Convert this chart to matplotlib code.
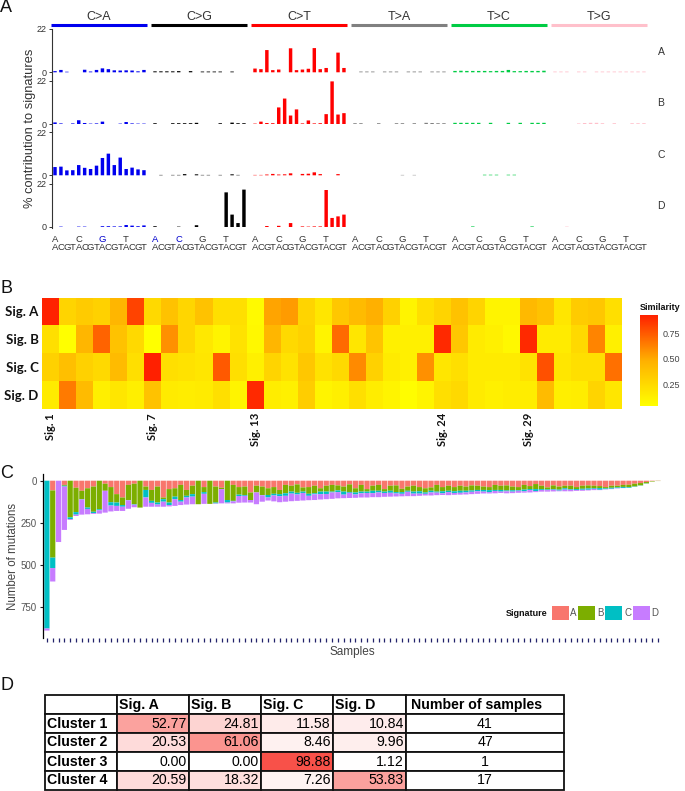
import numpy as np
import matplotlib
matplotlib.use("Agg")
import matplotlib.pyplot as plt
from matplotlib.colors import LinearSegmentedColormap
from matplotlib.table import Table

W, H = 685, 791
plt.rcParams['font.family'] = ['Liberation Sans', 'DejaVu Sans']

# panel A, % contribution, 16 contexts for each of the 6 substitution types
subs = ["C>A", "C>G", "C>T", "T>A", "T>C", "T>G"]
sub_colors = ["#0000ee", "#000000", "#ff0000", "#808080", "#00cc44", "#ffc0cb"]
bases = ["A", "C", "G", "T"]
sig_names = ["A", "B", "C", "D"]
sig_a = [.6,1.2,.3,0,0,1.3,.4,1.2,2,1.6,1,.9,1,.9,.5,1.2,
         .5,.5,.5,.5,.6,0,.6,0,.4,.4,.4,.4,0,.4,0,0,
         1.9,1.6,11.3,1.1,1.4,0,12.2,1.1,1.4,1.8,12.3,1.6,2.2,0,10,2.2,
         0,.4,.4,.4,0,.4,.4,.4,0,.4,.4,.4,0,.4,.4,.4,
         .7,.8,.7,.7,.7,.7,.6,.7,.7,1.2,.6,.6,.7,.7,.7,.8,
         .4,.4,.4,0,.4,.4,0,.4,.4,.4,.4,.4,.4,.4,.4,.4]
sig_b = [.8,.3,0,.3,1.9,.5,.2,.3,1.2,0,0,.2,1,.3,.2,.2,
         .4,0,0,.4,.4,.4,.4,.6,0,0,0,.4,0,.7,.4,.4,
         .2,1.2,.5,.4,8.4,12.9,4.3,7.4,.3,1.8,.3,.4,5,21.6,4.8,5.5,
         .4,.4,0,0,.4,0,0,.4,.4,0,.4,0,.6,.5,.4,.4,
         .6,.6,.6,.6,.6,0,.6,0,0,.6,0,.6,0,.6,.6,.6,
         0,0,0,0,.3,.5,.6,.6,.4,0,.4,0,0,.4,.4,.4]
sig_c = [4.2,4.4,2.5,2.6,5.2,3.8,3.2,4.9,8.8,11,5.2,9,3.2,3.9,3,2.6,
         0,.2,0,.2,.2,.6,0,.5,.2,.2,0,.2,0,.5,.2,0,
         .2,.2,.4,.7,.4,.5,1,0,.7,.8,1.5,.6,0,0,.6,0,
         0,0,0,0,0,0,0,0,.2,0,.2,0,0,0,0,0,
         0,0,0,0,0,.3,.3,.3,0,.3,.3,0,0,0,0,0,
         0,0,0,0,0,0,0,0,0,0,0,0,0,0,0,0]
sig_d = [0,.2,0,0,.2,.2,0,0,.4,.4,.3,.3,1,.7,.4,.8,
         .4,0,0,0,.2,0,0,.9,0,0,0,0,17.6,6.3,2,19,
         0,0,.5,0,.6,0,2,0,.3,.2,.3,.3,18.8,4.6,5.4,6.3,
         0,0,0,0,0,0,0,0,0,0,0,0,0,0,0,0,
         0,0,0,.3,0,0,0,0,0,0,0,0,0,.3,0,0,
         0,0,.2,0,0,0,0,0,0,0,0,0,0,0,0,0]
profiles = [sig_a, sig_b, sig_c, sig_d]

# panel B, cosine similarity with the 34 reference signatures
sim_a = [.92,.28,.33,.30,.45,.82,.25,.38,.27,.38,.22,.22,.07,.52,.55,.28,.18,.35,.42,.48,.30,.10,.22,.28,.38,.28,.10,.10,.43,.38,.18,.33,.35,.22]
sim_b = [.22,.03,.45,.72,.38,.25,.03,.58,.27,.17,.10,.20,.08,.45,.25,.30,.10,.70,.18,.37,.12,.12,.12,.90,.35,.15,.12,.08,.90,.15,.15,.25,.62,.12]
sim_c = [.30,.40,.30,.25,.42,.22,.98,.22,.20,.18,.75,.22,.12,.28,.20,.35,.20,.25,.60,.30,.15,.12,.58,.18,.22,.15,.15,.15,.20,.78,.18,.22,.22,.68]
sim_d = [.15,.65,.42,.13,.18,.13,.38,.15,.14,.15,.22,.10,.90,.14,.12,.32,.10,.13,.22,.14,.10,.05,.10,.22,.25,.15,.12,.14,.14,.42,.13,.14,.28,.18]
sim_rows = ["Sig. A", "Sig. B", "Sig. C", "Sig. D"]
sim_tick_pos = [0, 6, 12, 23, 28]
sim_tick_labels = ["Sig. 1", "Sig. 7", "Sig. 13", "Sig. 24", "Sig. 29"]

# panel C, mutations per sample split by signature
mut_a = [0,58,0,25,0,42,60,45,35,0,
         18,38,80,100,25,18,0,35,55,35,
         100,50,45,25,55,30,0,38,0,35,
         42,0,25,38,35,70,30,35,45,38,
         55,25,30,22,40,38,30,45,30,25,
         28,35,22,45,25,50,30,25,50,30,
         28,48,35,30,38,45,40,25,38,30,
         38,30,35,28,30,35,38,25,30,28,
         35,38,25,32,20,30,40,28,35,30,
         30,38,30,28,30,32,38,30,30,25,
         24,18,14,8,2,1]
mut_b = [0,400,0,5,218,145,50,115,150,170,
         42,90,50,45,90,122,160,20,65,95,
         10,80,50,90,35,50,140,30,138,95,
         8,115,95,45,50,45,40,50,40,40,
         25,50,35,50,25,40,45,20,35,40,
         30,30,45,25,40,15,30,35,15,30,
         40,20,25,35,25,25,20,40,25,30,
         25,30,25,30,25,20,18,30,25,30,
         22,18,28,18,30,20,12,22,18,15,
         20,12,18,18,15,12,8,12,10,12,
         14,16,14,8,3,1]
mut_c = [880,62,0,5,10,15,2,8,8,6,
         0,20,20,10,2,3,0,45,12,12,
         15,15,15,10,10,15,0,10,0,5,
         0,15,3,8,5,0,0,2,15,10,
         12,15,12,10,8,12,6,15,14,5,
         10,18,5,12,10,8,14,10,8,12,
         8,10,6,12,14,8,10,6,12,8,
         10,12,10,8,8,10,12,6,10,5,
         8,4,10,6,12,5,4,4,6,8,
         4,6,6,8,4,10,4,6,4,6,
         4,2,1,1,0,0]
mut_d = [12,80,365,258,5,8,90,32,5,20,
         130,35,30,25,50,15,0,55,23,13,
         30,8,40,20,42,45,0,60,0,2,
         85,5,12,40,40,15,70,38,18,35,
         36,35,45,38,45,26,34,32,31,38,
         37,21,31,20,25,27,24,28,23,23,
         18,15,26,15,13,10,18,15,10,18,
         11,11,12,14,15,11,8,14,8,12,
         9,12,8,14,6,10,9,10,4,10,
         9,5,6,4,7,2,2,2,2,1,
         0,0,0,0,0,0]
mut_colors = ["#F8766D", "#7CAE00", "#00BFC4", "#C77CFF"]

# panel D
table_cols = ["", "Sig. A", "Sig. B", "Sig. C", "Sig. D", "Number of samples"]
clusters = ["Cluster 1", "Cluster 2", "Cluster 3", "Cluster 4"]
cluster_pct = [[52.77, 24.81, 11.58, 10.84],
               [20.53, 61.06, 8.46, 9.96],
               [0.00, 0.00, 98.88, 1.12],
               [20.59, 18.32, 7.26, 53.83]]
cluster_n = [41, 47, 1, 17]


def px_axes(x0, y0, x1, y1):
    # axes placed by pixel box, y counted from the top of the image
    return fig.add_axes([x0 / W, 1 - y1 / H, (x1 - x0) / W, (y1 - y0) / H])


def px_text(x, y, s, **kw):
    fig.text(x / W, 1 - y / H, s, **kw)


fig = plt.figure(figsize=(W / 100, H / 100), dpi=100)

for letter, y in zip("ABCD", [7, 288, 473, 686]):
    px_text(0, y, letter, fontsize=13, va="center", ha="left", color="#111111")

# ---- panel A
tops = [29, 80.6, 132, 183.7, 235]
zeros = [72.3, 124, 175.3, 227]
step = 5.93
block = 100 / step
grey = "#333333"
for r, prof in enumerate(profiles):
    bottom = tops[r + 1] if r < 3 else 228
    ax = px_axes(51.5, tops[r], 648, bottom)
    scale = 22 / (zeros[r] - tops[r])
    ax.set_ylim(-(bottom - zeros[r]) * scale, 22)
    ax.set_xlim((51.5 - 55) / step, (648 - 55) / step)
    xs = [b * block + i for b in range(6) for i in range(16)]
    cols = [sub_colors[b] for b in range(6) for i in range(16)]
    ax.bar(xs, prof, width=0.58, color=cols, linewidth=0, snap=False)
    ax.set_yticks([0, 22])
    ax.set_yticklabels(["0", "22"], fontsize=6.5, color=grey)
    ax.tick_params(axis="y", length=2.5, width=0.7, pad=1, color=grey)
    ax.set_xticks([])
    for s in ["top", "right", "bottom"]:
        ax.spines[s].set_visible(False)
    ax.spines["left"].set_linewidth(0.8)
    ax.spines["left"].set_color(grey)
    ax.patch.set_alpha(0)
    px_text(661, (tops[r] + zeros[r]) / 2 + 1, sig_names[r], fontsize=7.5, ha="center", va="center", color=grey)

head = px_axes(0, 0, W, H)
head.set_xlim(0, W)
head.set_ylim(H, 0)
head.axis("off")
for b, (name, c) in enumerate(zip(subs, sub_colors)):
    x0 = 51.5 + 100 * b
    head.plot([x0, x0 + 95.5], [25, 25], color=c, lw=2.2, solid_capstyle="butt")
    head.text(x0 + 47.5, 17, name, fontsize=9, ha="center", va="center", color=grey)
    for i in range(4):
        c0 = "#0000cc" if (b == 0 and i == 2) or (b == 1 and i < 2) else grey
        head.text(55 + 100 * b + i * 4 * step, 239, bases[i], fontsize=6.8, ha="center", va="center", color=c0)
    for i in range(16):
        head.text(55 + 100 * b + i * step, 248, bases[i % 4], fontsize=6.8, ha="center", va="center", color=grey)
px_text(30, 128, "% contribution to signatures", fontsize=9.3, rotation=90, ha="center", va="center", color=grey)

# ---- panel B
sim = np.array([sim_a, sim_b, sim_c, sim_d])
heat_cmap = LinearSegmentedColormap.from_list("sim", ["#FFFF00", "#FFB000", "#FF2000"])
ax = px_axes(42, 297.5, 622, 409.5)
im = ax.imshow(sim, cmap=heat_cmap, aspect="auto", vmin=0.04, vmax=0.93, interpolation="nearest")
ax.set_yticks(range(4))
ax.set_yticklabels(sim_rows, fontsize=9.5, fontweight="bold", family="Lato", color="#111111")
ax.set_xticks(sim_tick_pos)
ax.set_xticklabels(sim_tick_labels, rotation=90, fontsize=8, fontweight="bold", family="Lato", color="#111111")
ax.tick_params(length=0, pad=2.5)
for s in ax.spines.values():
    s.set_visible(False)

cax = px_axes(640, 315, 658, 406)
cb = fig.colorbar(im, cax=cax, ticks=[0.25, 0.5, 0.75])
cb.ax.set_yticklabels(["0.25", "0.50", "0.75"], fontsize=6.5, color="#444444")
cb.ax.tick_params(length=0, pad=3)
cb.outline.set_visible(False)
px_text(640, 307, "Similarity", fontsize=6.5, fontweight="bold", ha="left", va="center", color="#111111")

# ---- panel C
ax = px_axes(43, 474, 665, 638)
pxm = 0.168
ax.set_ylim((638 - 480.7) / pxm, (474 - 480.7) / pxm)
ax.set_xlim((43 - 46.9) / 5.82, (665 - 46.9) / 5.82)
x = np.arange(len(mut_a))
base = np.zeros(len(mut_a))
for vals, c, name in zip([mut_a, mut_b, mut_c, mut_d], mut_colors, sig_names):
    ax.bar(x, vals, bottom=base, width=0.9, color=c, linewidth=0, label=name, snap=False)
    base = base + np.array(vals)
ax.set_yticks([0, 250, 500, 750])
ax.set_yticklabels(["0", "250", "500", "750"], fontsize=7, color="#555555")
ax.set_xticks(x)
ax.set_xticklabels([])
ax.tick_params(axis="x", length=3, width=0.9, color="#22226a", pad=0)
ax.tick_params(axis="y", length=2.5, width=0.8, pad=2, color="#222222")
for s in ["top", "right", "bottom"]:
    ax.spines[s].set_visible(False)
ax.spines["left"].set_linewidth(0.9)
ax.set_ylabel("Number of mutations", fontsize=8.3, color="#444444")
ax.yaxis.set_label_coords((19 - 43) / 622, (638 - 556) / 164)
px_text(352, 652, "Samples", fontsize=8.5, ha="center", va="center", color="#444444")
ax.legend(loc="center left", bbox_to_anchor=((551.5 - 43) / 622, (638 - 613) / 164), ncol=4, frameon=False,
          fontsize=7, labelcolor="#555555", handlelength=1.75, handleheight=1.75, handletextpad=0.2,
          columnspacing=0.15, borderpad=0, borderaxespad=0)
px_text(506, 613, "Signature", fontsize=6.5, fontweight="bold", ha="left", va="center", color="#111111")

# ---- panel D
ax = px_axes(45, 695, 564, 790)
ax.axis("off")
tbl_cmap = LinearSegmentedColormap.from_list("pct", ["#FFFFFF", "#F85048"])
col_w = np.array([72, 72, 72, 72, 73, 158]) / 519
tbl = Table(ax, bbox=[0, 0, 1, 1])
for c, name in enumerate(table_cols):
    cell = tbl.add_cell(0, c, width=col_w[c], height=0.2, text=name, loc="left", facecolor="white")
    cell.get_text().set_fontweight("bold")
for r, name in enumerate(clusters):
    cell = tbl.add_cell(r + 1, 0, width=col_w[0], height=0.2, text=name, loc="left", facecolor="white")
    cell.get_text().set_fontweight("bold")
    for c, v in enumerate(cluster_pct[r]):
        tbl.add_cell(r + 1, c + 1, width=col_w[c + 1], height=0.2, text=f"{v:.2f}", loc="right",
                     facecolor=tbl_cmap(v / 100))
    tbl.add_cell(r + 1, 5, width=col_w[5], height=0.2, text=str(cluster_n[r]), loc="center", facecolor="white")
tbl.auto_set_font_size(False)
tbl.set_fontsize(10.2)
for cell in tbl.get_celld().values():
    cell.PAD = 0.03
    cell.set_linewidth(1.3)
    cell.set_edgecolor("#111111")
ax.add_table(tbl)

fig.savefig("out.png", dpi=100)
